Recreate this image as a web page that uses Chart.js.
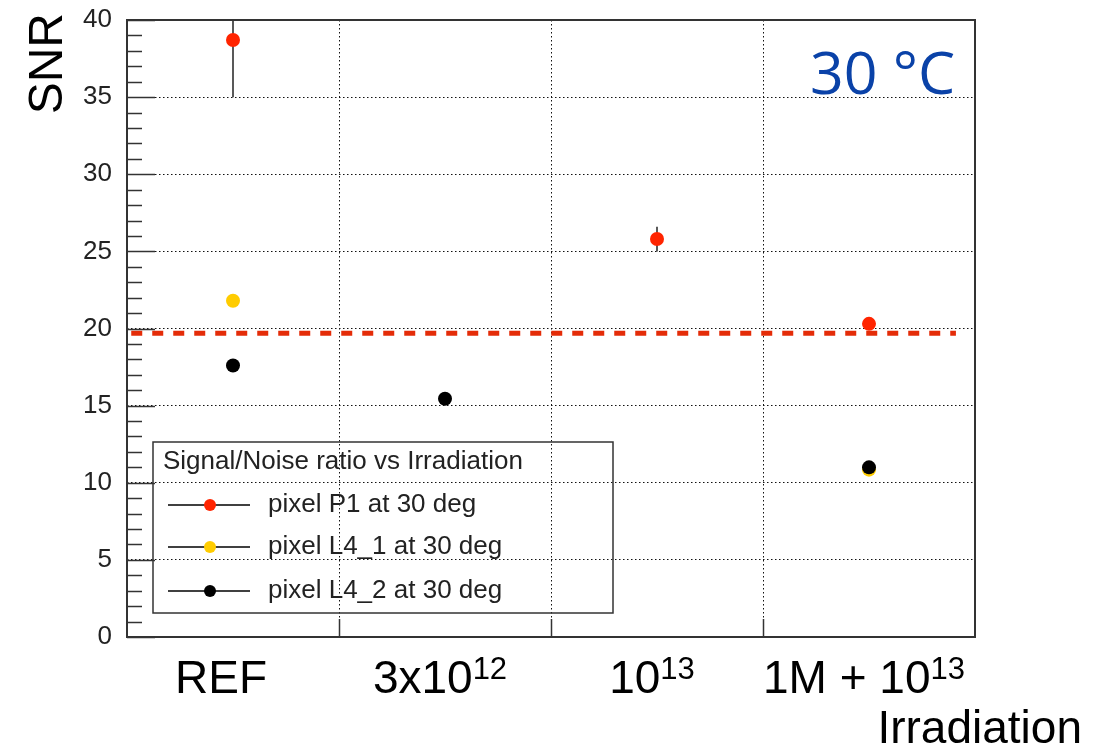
<!DOCTYPE html>
<html>
<head>
<meta charset="utf-8">
<title>SNR vs Irradiation</title>
<script src="https://cdn.jsdelivr.net/npm/chart.js@4.4.1/dist/chart.umd.min.js"></script>
<style>
  body { margin: 0; background: #fff; }
  canvas { display: block; }
</style>
</head>
<body>
<canvas id="snrChart" width="1114" height="751"></canvas>
<script>
// irradiation steps on the x axis (base text + exponent)
const irrBase = ['REF', '3x10', '10', '1M + 10'];
const irrExp = ['', '12', '13', '13'];

// SNR per pixel, null = not measured at that step
const p1Snr = [38.7, null, 25.8, 20.3];
const p1Err = [3.7, null, 0.8, 0.4];
const l41Snr = [21.8, null, null, 10.85];
const l42Snr = [17.6, 15.45, null, 11.0];

// reference level (dashed line)
const refLevel = 19.7;

const seriesNames = ['pixel P1 at 30 deg', 'pixel L4_1 at 30 deg', 'pixel L4_2 at 30 deg'];
const seriesColors = ['#ff2400', '#ffcc00', '#000000'];

const FONT = '"Liberation Sans", Arial, sans-serif';

function toPoints(arr) {
  return arr.map((v, i) => ({x: i, y: v})).filter(p => p.y !== null);
}

// ROOT-like decorations: frame, inner ticks, error bars, labels, legend
const rootStyle = {
  id: 'rootStyle',
  beforeDatasetsDraw(chart) {
    const {ctx, chartArea: a, scales: {x, y}} = chart;
    ctx.save();
    ctx.beginPath();
    ctx.rect(a.left, a.top, a.right - a.left, a.bottom - a.top);
    ctx.clip();
    ctx.strokeStyle = '#222';
    ctx.lineWidth = 1.5;
    p1Snr.forEach((v, i) => {
      if (v === null) return;
      const px = Math.round(x.getPixelForValue(i));
      ctx.beginPath();
      ctx.moveTo(px, y.getPixelForValue(v - p1Err[i]));
      ctx.lineTo(px, y.getPixelForValue(v + p1Err[i]));
      ctx.stroke();
    });
    ctx.restore();
  },
  afterDraw(chart) {
    const {ctx, chartArea: a, scales: {x, y}} = chart;
    ctx.save();

    // frame
    ctx.strokeStyle = '#333';
    ctx.lineWidth = 2;
    ctx.strokeRect(a.left, a.top, a.right - a.left, a.bottom - a.top);

    // y ticks inside the frame
    ctx.lineWidth = 1.5;
    for (let v = y.min; v <= y.max; v++) {
      const py = Math.round(y.getPixelForValue(v)) + 0.5;
      const len = v % 5 === 0 ? 28 : 15;
      ctx.beginPath();
      ctx.moveTo(a.left, py);
      ctx.lineTo(a.left + len, py);
      ctx.stroke();
    }
    // x ticks between categories
    for (let i = 0; i < irrBase.length - 1; i++) {
      const px = Math.round(x.getPixelForValue(i + 0.5)) + 0.5;
      ctx.beginPath();
      ctx.moveTo(px, a.bottom);
      ctx.lineTo(px, a.bottom - 18);
      ctx.stroke();
    }

    // category labels with exponents
    ctx.fillStyle = '#000';
    ctx.textBaseline = 'alphabetic';
    ctx.textAlign = 'left';
    irrBase.forEach((base, i) => {
      ctx.font = '46px ' + FONT;
      const wb = ctx.measureText(base).width;
      ctx.font = '31px ' + FONT;
      const we = irrExp[i] ? ctx.measureText(irrExp[i]).width : 0;
      const cx = x.getPixelForValue(i) - (i === 0 ? 12 : 5);
      const x0 = cx - (wb + we) / 2;
      ctx.font = '46px ' + FONT;
      ctx.fillText(base, x0, 693);
      if (irrExp[i]) {
        ctx.font = '31px ' + FONT;
        ctx.fillText(irrExp[i], x0 + wb, 679);
      }
    });

    // axis titles
    ctx.font = '46px ' + FONT;
    ctx.textAlign = 'right';
    ctx.fillText('Irradiation', 1082, 743);

    ctx.save();
    ctx.translate(62, 13);
    ctx.rotate(-Math.PI / 2);
    ctx.font = '48px ' + FONT;
    ctx.textAlign = 'right';
    ctx.fillText('SNR', 0, 0);
    ctx.restore();

    // temperature tag
    ctx.fillStyle = '#0a42a8';
    ctx.font = '59px "Open Sans", sans-serif';
    ctx.textAlign = 'left';
    ctx.fillText('30 \u00B0C', 810, 94);

    // legend box
    const lx = 153, ly = 442, lw = 460, lh = 171;
    ctx.strokeStyle = '#333';
    ctx.lineWidth = 1.5;
    ctx.strokeRect(lx, ly, lw, lh);
    ctx.fillStyle = '#222';
    ctx.textAlign = 'left';
    ctx.textBaseline = 'middle';
    ctx.font = '26px ' + FONT;
    ctx.fillText('Signal/Noise ratio vs Irradiation', lx + 10, ly + 20);
    const rows = [505, 547, 591];
    seriesNames.forEach((name, i) => {
      const ry = rows[i];
      ctx.strokeStyle = '#000';
      ctx.lineWidth = 1.5;
      ctx.beginPath();
      ctx.moveTo(168, ry);
      ctx.lineTo(250, ry);
      ctx.stroke();
      ctx.fillStyle = seriesColors[i];
      ctx.beginPath();
      ctx.arc(210, ry, 6, 0, Math.PI * 2);
      ctx.fill();
      ctx.fillStyle = '#222';
      ctx.font = '26px ' + FONT;
      ctx.fillText(name, 268, ry);
    });

    ctx.restore();
  }
};

const ctx = document.getElementById('snrChart').getContext('2d');
const snrChart = new Chart(ctx, {
  type: 'scatter',
  data: {
    datasets: [
      {
        label: 'reference',
        type: 'line',
        data: [{x: -0.48, y: refLevel}, {x: 3.41, y: refLevel}],
        borderColor: '#e42c08',
        borderWidth: 5,
        borderDash: [11, 10],
        pointRadius: 0,
        order: 4
      },
      {
        label: seriesNames[0],
        data: toPoints(p1Snr),
        backgroundColor: seriesColors[0],
        borderWidth: 0,
        pointRadius: 7,
        order: 3
      },
      {
        label: seriesNames[1],
        data: toPoints(l41Snr),
        backgroundColor: seriesColors[1],
        borderWidth: 0,
        pointRadius: 7,
        order: 2
      },
      {
        label: seriesNames[2],
        data: toPoints(l42Snr),
        backgroundColor: seriesColors[2],
        borderWidth: 0,
        pointRadius: 7,
        order: 1
      }
    ]
  },
  options: {
    responsive: false,
    animation: false,
    layout: { padding: { top: 20, right: 139, left: 0, bottom: 0 } },
    plugins: {
      legend: { display: false },
      tooltip: { enabled: false }
    },
    scales: {
      x: {
        type: 'linear',
        min: -0.5,
        max: 3.5,
        afterBuildTicks: s => { s.ticks = [0.5, 1.5, 2.5].map(v => ({value: v})); },
        afterFit: s => { s.height = 114; s.paddingLeft = 0; s.paddingRight = 0; },
        ticks: { display: false },
        grid: { color: '#111', lineWidth: 1, drawTicks: false },
        border: { display: false, dash: [1.5, 2.5] }
      },
      y: {
        min: 0,
        max: 40,
        afterFit: s => { s.width = 127; s.paddingTop = 0; s.paddingBottom = 0; },
        ticks: {
          stepSize: 5,
          padding: 15,
          color: '#222',
          font: { family: FONT, size: 26 }
        },
        grid: {
          color: c => (c.tick.value === 0 || c.tick.value === 40) ? 'transparent' : '#111',
          lineWidth: 1,
          drawTicks: false
        },
        border: { display: false, dash: [1.5, 2.5] }
      }
    }
  },
  plugins: [rootStyle]
});
</script>
</body>
</html>
